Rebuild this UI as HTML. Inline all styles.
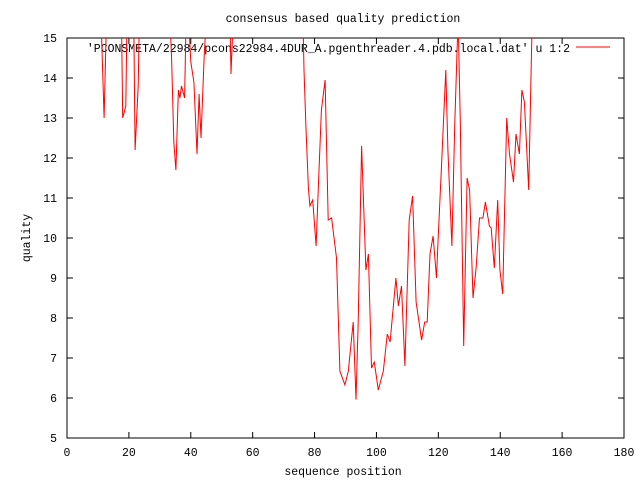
<!DOCTYPE html>
<html><head><meta charset="utf-8"><style>
body{margin:0;background:#fff}
svg text{font-family:"Liberation Mono",monospace;font-size:11.5px;fill:#000}
</style></head><body>
<svg width="640" height="480" xmlns="http://www.w3.org/2000/svg">
<defs><clipPath id="pa"><rect x="67" y="38" width="557" height="400"/></clipPath></defs>
<text x="343" y="22" text-anchor="middle">consensus based quality prediction</text>
<g id="axes"></g>
<rect x="67" y="38" width="557" height="400" fill="none" stroke="#000"/>
<text x="343" y="475" text-anchor="middle">sequence position</text>
<text transform="translate(30,238) rotate(-90)" text-anchor="middle">quality</text>
<text x="570" y="52" text-anchor="end">'PCONSMETA/22984/pcons22984.4DUR_A.pgenthreader.4.pdb.local.dat' u 1:2</text>
<line x1="576" y1="47" x2="610" y2="47" stroke="#f00"/>
<path id="series" fill="none" stroke="#f00" stroke-width="1" clip-path="url(#pa)"/>
</svg>
<script>
const xTicks=[0,20,40,60,80,100,120,140,160,180];
const yTicks=[5,6,7,8,9,10,11,12,13,14,15];
const positions=[1,10,11,12,12.7,17.5,18,19,19.5,21.5,22,23,23.5,33,33.8,34.5,35.2,36,36.5,37,38,38.5,39.5,40,41,42,42.7,43.3,44.3,45,52.5,53,53.7,75.5,76.3,76.6,77.2,78,78.5,79.4,80.5,81.2,82.2,83.4,84.4,85.5,87.1,88.2,89.8,90.9,92.5,93.4,94.1,95.2,96.6,97.4,98.4,99.3,100.6,102.2,103.5,104.4,106.3,107.1,108.1,109.2,110.6,111.7,112.8,114.6,115.6,116.4,117.3,118.3,119.4,119.9,121,122.4,123.1,124.4,125.3,126.4,127.1,128.2,129.3,130.1,131.2,132.2,133.3,134.4,135.2,136.5,137.1,138.1,139.2,139.9,140.8,142.1,143,144.3,145.1,146.2,147,147.8,149.2,150,150.3,151];
const quality=[16,16,15.5,13.0,15.3,16,13.0,13.3,16,16,12.2,13.8,16,16,14.5,12.4,11.7,13.7,13.5,13.8,13.5,15.5,15.2,14.4,13.9,12.1,13.6,12.5,14.5,15.5,16,14.1,15.5,16,15.3,14.2,12.8,11.25,10.8,10.95,9.8,11.25,13.2,13.95,10.45,10.5,9.5,6.67,6.33,6.67,7.9,5.96,7.9,12.3,9.2,9.6,6.75,6.9,6.2,6.67,7.6,7.4,9.0,8.3,8.8,6.8,10.45,11.05,8.4,7.45,7.9,7.9,9.6,10.05,9.0,9.9,11.75,14.2,12.2,9.8,12.8,15.5,12.9,7.3,11.5,11.2,8.5,9.25,10.5,10.5,10.9,10.3,10.25,9.25,10.95,9.2,8.6,13.0,12.1,11.4,12.6,12.1,13.7,13.4,11.2,14.3,15.3,16];
const X=v=>67+(v-0)*(557/180);
const Y=v=>438-(v-5)*40;
const ns="http://www.w3.org/2000/svg";
const g=document.getElementById('axes');
function mk(t,a){const e=document.createElementNS(ns,t);for(const k in a)e.setAttribute(k,a[k]);g.appendChild(e);return e;}
xTicks.forEach(v=>{
  const t=mk('path',{d:`M${X(v)},438v-6M${X(v)},38v6`,stroke:'#000'});
  
  
  const l=mk('text',{x:X(v),y:456,'text-anchor':'middle'});
  l.textContent=v;
  
  
});
yTicks.forEach(v=>{
  const t=mk('path',{d:`M67,${Y(v)}h6M624,${Y(v)}h-6`,stroke:'#000'});
  
  
  const l=mk('text',{x:57,y:Y(v)+4,'text-anchor':'end'});
  l.textContent=v;
  
  
});
document.getElementById('series').setAttribute('d',positions.map((p,i)=>(i?'L':'M')+X(p).toFixed(1)+','+Y(quality[i]).toFixed(1)).join(''));
</script>
</body></html>
